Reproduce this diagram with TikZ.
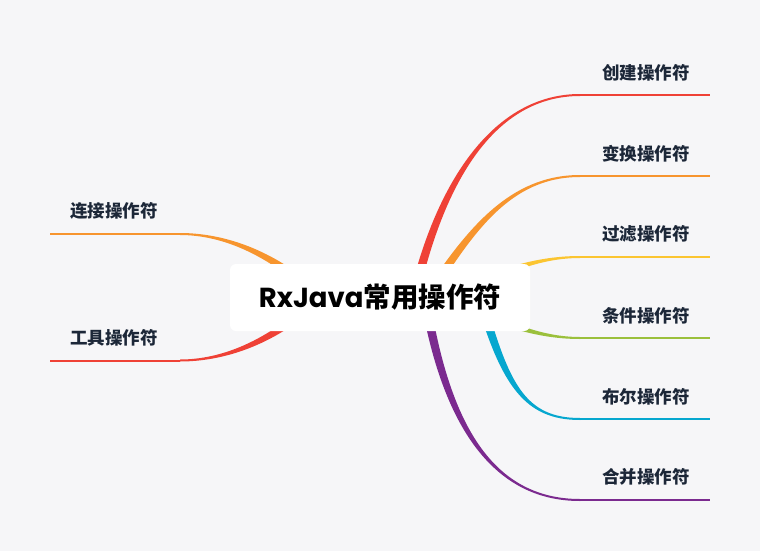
\documentclass[tikz,border=0pt]{standalone}
\usepackage{fontspec}
\setmainfont{Poppins}
\newfontfamily\cjk{Noto Sans CJK SC}
\usetikzlibrary{calc,positioning}

\pgfdeclarelayer{paperlayer}
\pgfdeclarelayer{branchlayer}
\pgfsetlayers{paperlayer,branchlayer,main}

\definecolor{paper}{HTML}{F6F6F8}
\definecolor{ink}{HTML}{1C2738}
\definecolor{mmred}{HTML}{EF4136}
\definecolor{mmorange}{HTML}{F7952E}
\definecolor{mmyellow}{HTML}{FBC531}
\definecolor{mmgreen}{HTML}{9BC03C}
\definecolor{mmcyan}{HTML}{06A7CF}
\definecolor{mmpurple}{HTML}{7B2A8F}

\tikzstyle{root} = [fill=white, rounded corners=6pt, minimum width=300pt, minimum height=67pt, inner sep=0pt, font=\fontsize{27.5}{30}\selectfont\bfseries]
\tikzstyle{topic} = [text=ink, inner sep=0pt, font=\cjk\fontsize{17.5}{20}\selectfont\bfseries]
\tikzstyle{stem} = [line width=2pt]

% tapered curve: colour, start, control, control, end
\newcommand{\branch}[5]{%
  \fill[#1] ($(#2)!4.5pt!90:(#3)$) .. controls ($(#3)!3.8pt!-90:(#2)$) and ($(#4)!1pt!90:(#5)$) .. ($(#5)!1pt!-90:(#4)$)
    -- ($(#5)!1pt!90:(#4)$) .. controls ($(#4)!1pt!-90:(#5)$) and ($(#3)!3.8pt!90:(#2)$) .. ($(#2)!4.5pt!-90:(#3)$) -- cycle;}

\begin{document}
\begin{tikzpicture}[x=1pt, y=-1pt]
\useasboundingbox (0,0) rectangle (760,551);
\begin{pgfonlayer}{paperlayer}
\fill[paper] (0,0) rectangle (760,551);
\end{pgfonlayer}

\node[root] (root) at (380,297.5) {RxJava{\cjk 常用操作符}};

% start points hidden under the root
\coordinate (s1) at ($(root.center)+(33,2.5)$);
\coordinate (s2) at ($(root.center)+(45,2.5)$);
\coordinate (s3) at ($(root.center)+(70,0)$);
\coordinate (s4) at ($(root.center)+(100,0)$);
\coordinate (s5) at ($(root.center)+(45,0)$);
\coordinate (sl) at ($(root.center)+(-60,0)$);

% right side
\coordinate (a1) at (580,95);    \coordinate (b1) at (710,95);
\coordinate (a2) at (580,176);   \coordinate (b2) at (710,176);
\coordinate (a3) at (580,257);   \coordinate (b3) at (710,257);
\coordinate (a4) at (580,338);   \coordinate (b4) at (710,338);
\coordinate (a5) at (580,419);   \coordinate (b5) at (710,419);
\coordinate (a6) at (580,500);   \coordinate (b6) at (710,500);
% left side
\coordinate (a7) at (180,234);   \coordinate (b7) at (50,234);
\coordinate (a8) at (180,360.5); \coordinate (b8) at (50,360.5);

\node[topic, above left=14pt and 20pt of b1] (t1) {创建操作符};
\node[topic, above left=14pt and 20pt of b2] (t2) {变换操作符};
\node[topic, above left=14pt and 20pt of b3] (t3) {过滤操作符};
\node[topic, above left=14pt and 20pt of b4] (t4) {条件操作符};
\node[topic, above left=14pt and 20pt of b5] (t5) {布尔操作符};
\node[topic, above left=14pt and 20pt of b6] (t6) {合并操作符};
\node[topic, above right=14pt and 20pt of b7] (t7) {连接操作符};
\node[topic, above right=14pt and 20pt of b8] (t8) {工具操作符};

\begin{pgfonlayer}{branchlayer}
\branch{mmred}{s1}{440,180}{495,95}{a1}
\branch{mmorange}{s2}{470,230}{510,176}{a2}
\branch{mmyellow}{s3}{500,270}{540,257}{a3}
\branch{mmgreen}{s3}{500,324}{540,338}{a4}
\branch{mmcyan}{s4}{505,385}{525,419}{a5}
\branch{mmpurple}{s5}{445,420}{490,500}{a6}
\branch{mmorange}{sl}{270,250}{220,234}{a7}
\branch{mmred}{sl}{270,345}{220,360.5}{a8}
\draw[stem, mmred] (a1) -- (b1);
\draw[stem, mmorange] (a2) -- (b2);
\draw[stem, mmyellow] (a3) -- (b3);
\draw[stem, mmgreen] (a4) -- (b4);
\draw[stem, mmcyan] (a5) -- (b5);
\draw[stem, mmpurple] (a6) -- (b6);
\draw[stem, mmorange] (a7) -- (b7);
\draw[stem, mmred] (a8) -- (b8);
\end{pgfonlayer}
\end{tikzpicture}
\end{document}
